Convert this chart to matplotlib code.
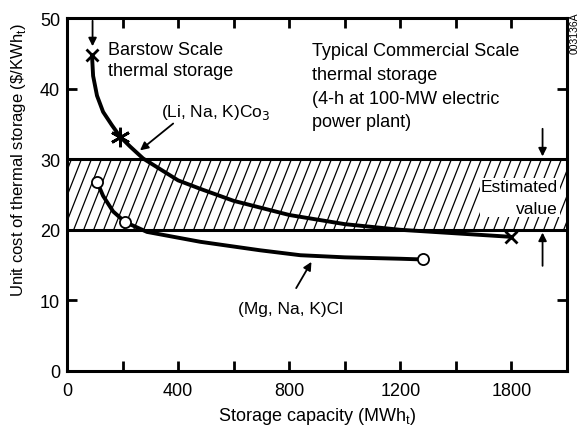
import numpy as np
import matplotlib
matplotlib.use("Agg")
import matplotlib.pyplot as plt

plt.rcParams['font.family'] = ['Liberation Sans', 'DejaVu Sans']

# (Li, Na, K)CO3 curve
carb_x = [90, 94, 108, 130, 162, 191, 227, 274, 400, 480, 600, 800, 1000, 1200, 1400, 1600]
carb_y = [44.7, 41.8, 39.0, 36.7, 34.8, 33.2, 31.8, 30.1, 27.0, 25.8, 24.1, 22.1, 20.8, 20.0, 19.5, 19.0]
# (Mg, Na, K)Cl curve
chl_x = [108, 130, 166, 209, 288, 480, 695, 840, 1000, 1200, 1280]
chl_y = [26.8, 24.8, 22.6, 21.1, 19.7, 18.3, 17.1, 16.4, 16.1, 15.9, 15.8]

band_lo, band_hi = 20, 30

xticks = [0, 200, 400, 600, 800, 1000, 1200, 1400, 1600]
xticklabels = ['0', '', '400', '', '800', '', '1200', '', '1800']
yticks = [0, 10, 20, 30, 40, 50]

fig = plt.figure(figsize=(5.82, 4.31), dpi=100)
ax = fig.add_axes([67/582, 59/431, 500/582, 353/431])

# hatched band for the estimated value (steep thin lines)
for x0 in np.arange(-120, 1800, 36):
    ax.plot([x0, x0 + 100], [band_lo, band_hi], color='black', lw=0.9, zorder=1)
ax.axhline(band_lo, color='black', lw=2.2, zorder=2)
ax.axhline(band_hi, color='black', lw=2.2, zorder=2)

ax.plot(carb_x, carb_y, color='black', lw=2.8, solid_capstyle='round', zorder=3)
ax.plot(chl_x, chl_y, color='black', lw=2.8, solid_capstyle='round', zorder=3)

ax.plot([carb_x[0], carb_x[-1]], [carb_y[0], carb_y[-1]], 'x', color='black',
        ms=9, mew=2, zorder=4)
ax.plot(carb_x[5], carb_y[5], marker=(6, 2, 0), color='black', ms=14, mew=2, zorder=4)
ax.plot([chl_x[0], chl_x[3], chl_x[-1]], [chl_y[0], chl_y[3], chl_y[-1]], 'o',
        mfc='white', mec='black', ms=8, mew=1.3, zorder=4)

ap = dict(arrowstyle='-|>', color='black', lw=1.3, mutation_scale=12)
ax.annotate('', xy=(92, 45.6), xytext=(92, 50), arrowprops=ap)
ax.annotate('', xy=(255, 31.0), xytext=(390, 35.3), arrowprops=ap)
ax.annotate('', xy=(885, 15.8), xytext=(820, 11.4), arrowprops=ap)
ax.annotate('', xy=(1712, 30), xytext=(1712, 34.7), arrowprops=ap)
ax.annotate('', xy=(1712, 20), xytext=(1712, 14.5), arrowprops=ap)

ax.text(148, 46.8, 'Barstow Scale\nthermal storage', fontsize=13, va='top',
        linespacing=1.35)
ax.text(536, 36.7, '(Li, Na, K)Co$_3$', fontsize=12.5, ha='center', va='center')
ax.text(803, 8.8, '(Mg, Na, K)Cl', fontsize=12.5, ha='center', va='center')
ax.text(882, 46.6, 'Typical Commercial Scale\nthermal storage\n(4-h at 100-MW electric\npower plant)',
        fontsize=13, va='top', linespacing=1.52)
ax.text(1768, 24.6, 'Estimated\nvalue', fontsize=12.5, ha='right', va='center',
        linespacing=1.55,
        bbox=dict(facecolor='white', edgecolor='none', pad=1), zorder=5)

fig.text(575/582, 1 - 13/431, '003136A', fontsize=7.5, rotation=90,
         ha='center', va='top')

ax.set_xlim(0, 1800)
ax.set_ylim(0, 50)
ax.set_xticks(xticks)
ax.set_xticklabels(xticklabels)
ax.set_yticks(yticks)
ax.tick_params(direction='in', length=7, width=2, labelsize=13, pad=5,
               top=True, right=True)
ax.tick_params(axis='x', pad=8)
for s in ax.spines.values():
    s.set_linewidth(2.2)

ax.set_xlabel('Storage capacity (MWh$_\\mathregular{t}$)', fontsize=13)
ax.xaxis.set_label_coords(0.5, -0.095)
ax.set_ylabel('Unit cost of thermal storage (\\$/KWh$_\\mathregular{t}$)', fontsize=12)
ax.yaxis.set_label_coords(-0.078, 0.60)

fig.savefig('out.png', dpi=100)
